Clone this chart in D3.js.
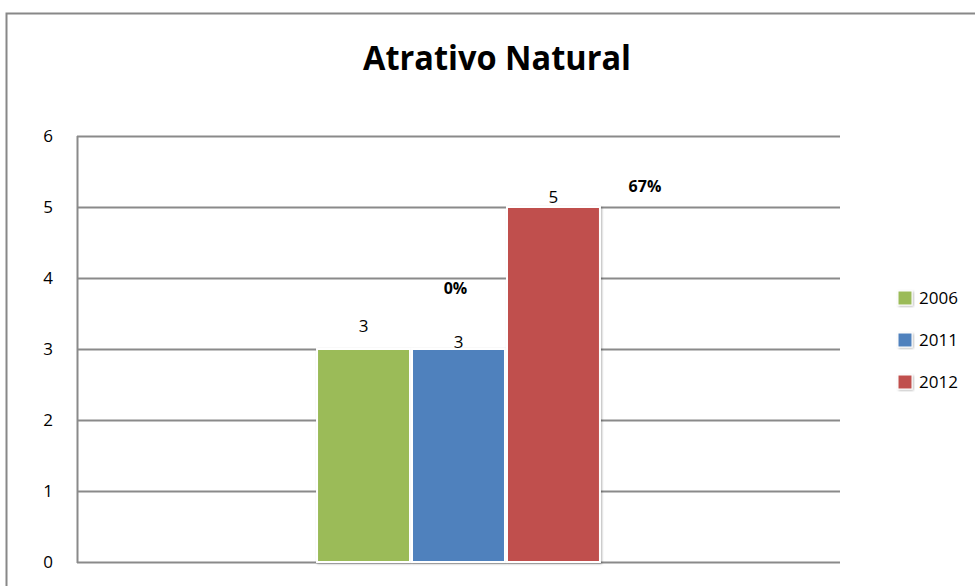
<!DOCTYPE html>
<html>
<head>
<meta charset="utf-8">
<script src="https://cdn.jsdelivr.net/npm/d3@7"></script>
<style>
  html, body { margin: 0; padding: 0; background: #fff; }
  svg { display: block; font-family: "Open Sans", "Liberation Sans", sans-serif; }
</style>
</head>
<body>
<svg id="chart" width="975" height="586"></svg>
<script>
const title = "Atrativo Natural";
const categories = [""];
const seriesNames = ["2006", "2011", "2012"];
const seriesValues = [3, 3, 5];
const seriesColors = ["#9BBB59", "#4F81BD", "#C0504D"];
const yTicks = [0, 1, 2, 3, 4, 5, 6];
const changeLabels = ["0%", "67%"];

const W = 975, H = 586;
const margin = { left: 77, right: 135, top: 136, bottom: 24 };
const svg = d3.select("#chart");

// outer chart border
svg.append("rect")
  .attr("x", 6.5).attr("y", 13.5)
  .attr("width", 1000).attr("height", 600)
  .attr("fill", "none").attr("stroke", "#888").attr("stroke-width", 2);

const x0 = d3.scaleBand().domain(categories).range([margin.left, W - margin.right]).paddingInner(0).paddingOuter(0.839);
const x1 = d3.scaleBand().domain(seriesNames).range([0, x0.bandwidth()]).padding(0);
const y = d3.scaleLinear().domain([0, 6]).range([H - margin.bottom, margin.top]);

// gridlines
svg.append("g").selectAll("line").data(yTicks).join("line")
  .attr("x1", margin.left).attr("x2", W - margin.right)
  .attr("y1", d => Math.round(y(d)) + 0.5).attr("y2", d => Math.round(y(d)) + 0.5)
  .attr("stroke", "#8a8a8a").attr("stroke-width", 2);

// y axis line
svg.append("line")
  .attr("x1", margin.left + 0.5).attr("x2", margin.left + 0.5)
  .attr("y1", y(6)).attr("y2", y(0) + 1)
  .attr("stroke", "#8a8a8a").attr("stroke-width", 2);

// tick labels
svg.append("g").selectAll("text").data(yTicks).join("text")
  .attr("x", 48).attr("y", d => y(d)).attr("dy", "0.36em")
  .attr("text-anchor", "middle").attr("font-size", 17).attr("fill", "#000")
  .text(d => d);

// shadow filter
const defs = svg.append("defs");
const f = defs.append("filter").attr("id", "sh").attr("x", "-10%").attr("y", "-10%").attr("width", "130%").attr("height", "130%");
f.append("feDropShadow").attr("dx", 1).attr("dy", 1).attr("stdDeviation", 1.2).attr("flood-color", "#000").attr("flood-opacity", 0.3);

const bars = svg.append("g");
const gx = x0(categories[0]);
bars.selectAll("rect").data(seriesNames).join("rect")
  .attr("x", (d) => gx + x1(d) + 1)
  .attr("width", x1.bandwidth() - 2)
  .attr("y", (d, i) => y(seriesValues[i]))
  .attr("height", (d, i) => y(0) - y(seriesValues[i]))
  .attr("fill", (d, i) => seriesColors[i])
  .attr("stroke", "#fff").attr("stroke-width", 2)
  .attr("filter", "url(#sh)");

// value labels
const labelOffsets = [-23, -7, -10];
svg.append("g").selectAll("text").data(seriesNames).join("text")
  .attr("x", d => gx + x1(d) + x1.bandwidth() / 2)
  .attr("y", (d, i) => y(seriesValues[i]) + labelOffsets[i]).attr("dy", "0.36em")
  .attr("text-anchor", "middle").attr("font-size", 17).attr("fill", "#000")
  .text((d, i) => seriesValues[i]);

// change labels
const changePos = [
  { x: gx + x1("2011") + x1.bandwidth() / 2 - 3, v: 3.85 },
  { x: gx + x1("2012") + x1.bandwidth() + 44, v: 5.29 }
];
svg.append("g").selectAll("text").data(changeLabels).join("text")
  .attr("x", (d, i) => changePos[i].x)
  .attr("y", (d, i) => y(changePos[i].v)).attr("dy", "0.36em")
  .attr("text-anchor", "middle").attr("font-size", 16).attr("font-weight", "bold").attr("fill", "#000")
  .text(d => d);

// title
svg.append("text")
  .attr("x", 497).attr("y", 70)
  .attr("text-anchor", "middle").attr("font-size", 34).attr("font-weight", "bold")
  .attr("textLength", 268).attr("lengthAdjust", "spacingAndGlyphs")
  .text(title);

// legend
const legend = svg.append("g").selectAll("g").data(seriesNames).join("g")
  .attr("transform", (d, i) => `translate(898, ${298 + i * 42})`);
legend.append("rect")
  .attr("x", 0).attr("y", -7).attr("width", 14).attr("height", 14)
  .attr("fill", (d, i) => seriesColors[i]).attr("stroke", "#fff").attr("stroke-width", 1)
  .attr("filter", "url(#sh)");
legend.append("text")
  .attr("x", 21).attr("y", 0).attr("dy", "0.36em")
  .attr("font-size", 17).attr("fill", "#000")
  .text(d => d);
</script>
</body>
</html>
